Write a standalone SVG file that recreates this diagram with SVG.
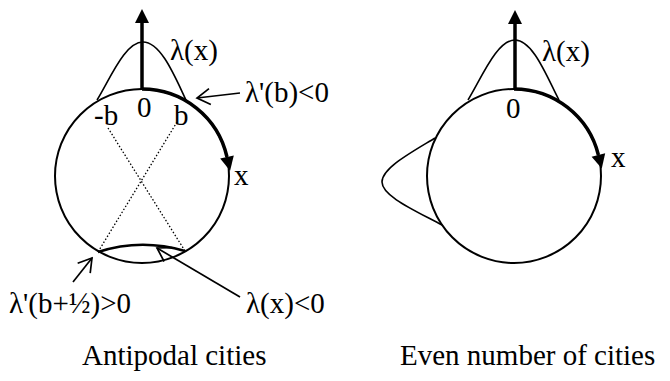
<svg xmlns="http://www.w3.org/2000/svg" width="670" height="381" viewBox="0 0 670 381">
<style>
  .t { font-family: "Liberation Serif", "Times New Roman", serif; font-size: 29px; fill: #000; }
  .thin { fill: none; stroke: #000; stroke-width: 1.6; }
  .circ { fill: none; stroke: #000; stroke-width: 2; }
  .thick { fill: none; stroke: #000; stroke-width: 3.5; }
  .dot { fill: none; stroke: #000; stroke-width: 1.3; stroke-dasharray: 1.5 2; }
  .ptr { fill: none; stroke: #000; stroke-width: 1.7; marker-end: url(#open); }
</style>
<defs>
  <marker id="solid" markerUnits="userSpaceOnUse" markerWidth="15" markerHeight="14" refX="0" refY="7" orient="auto" overflow="visible">
    <path d="M0,0 L14,7 L0,14 z" fill="#000"/>
  </marker>
  <marker id="open" markerUnits="userSpaceOnUse" markerWidth="16" markerHeight="18" refX="14" refY="9" orient="auto" overflow="visible">
    <path d="M1,1 L14,9 L1,17" fill="none" stroke="#000" stroke-width="1.7"/>
  </marker>
</defs>

<g id="left-figure">
  <g id="left-circle"><circle class="circ" cx="142" cy="176" r="87"/></g>
  <g id="left-bell"><path class="thin" d="M97,100 C111,77 125,42 143,42 C161,42 175,77 186,100"/></g>
  <g id="left-dotted">
    <path class="dot" d="M108,128 L185,251"/>
    <path class="dot" d="M177,122 L98,252"/>
  </g>
  <g id="left-negative"><path class="thin" style="stroke-width:2.6" d="M98,252 Q141,238 185,251"/></g>
  <text class="t" x="170" y="60">λ(x)</text>
  <text class="t" x="245" y="102">λ'(b)&lt;0</text>
  <text class="t" x="137" y="117">0</text>
  <text class="t" x="94" y="125">-b</text>
  <text class="t" x="174" y="125">b</text>
  <text class="t" x="234" y="185">x</text>
  <text class="t" x="9" y="313">λ'(b+½)&gt;0</text>
  <text class="t" x="246" y="313">λ(x)&lt;0</text>
  <text class="t" x="82" y="365">Antipodal cities</text>
</g>

<g id="right-figure">
  <g id="right-circle"><circle class="circ" cx="514" cy="176" r="87"/></g>
  <g id="right-bell"><path class="thin" d="M468,100 C482,77 497,40 515,40 C533,40 547,77 559,100"/></g>
  <g id="right-bump"><path class="thin" d="M435,138 C412,152 382,168 382,182 C382,196 414,210 442,225"/></g>
  <text class="t" x="542" y="61">λ(x)</text>
  <text class="t" x="506" y="118">0</text>
  <text class="t" x="611" y="167">x</text>
  <text class="t" x="400" y="365">Even number of cities</text>
</g>

<g id="connectors">
  <line class="thick" x1="142" y1="90" x2="142" y2="23" marker-end="url(#solid)"/>
  <path class="thick" d="M142,89 A87,87 0 0 1 227,157" marker-end="url(#solid)"/>
  <line class="thick" x1="515" y1="90" x2="515" y2="24" marker-end="url(#solid)"/>
  <path class="thick" d="M514,89 A87,87 0 0 1 598.4,155" marker-end="url(#solid)"/>
  <line class="ptr" x1="240" y1="93" x2="197" y2="98"/>
  <line class="ptr" x1="73" y1="282" x2="92" y2="258"/>
  <line class="ptr" x1="240" y1="297" x2="157" y2="248"/>
</g>
</svg>
